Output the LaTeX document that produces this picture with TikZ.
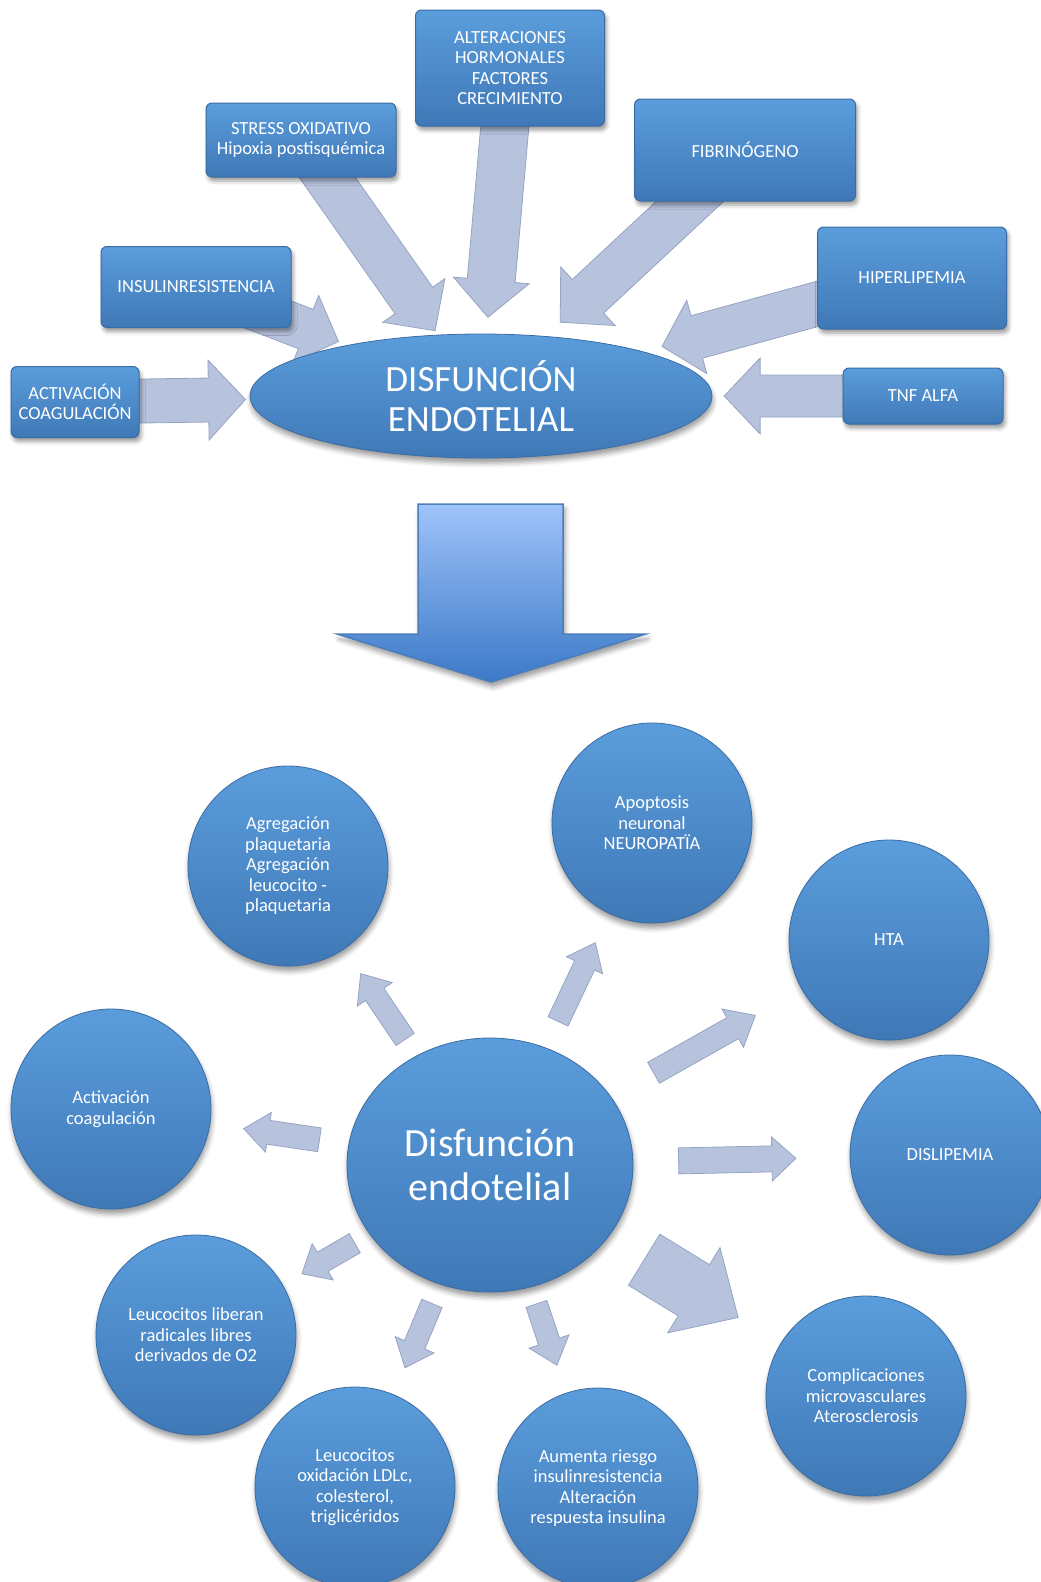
\documentclass[tikz,border=0pt]{standalone}
\usepackage{fontspec}
\setmainfont{Carlito}
\usetikzlibrary{shapes.geometric,calc,backgrounds,shadows.blur}

\definecolor{boxtop}{HTML}{5B9DDC}
\definecolor{boxbot}{HTML}{3F78B7}
\definecolor{boxline}{HTML}{3A6CA3}
\definecolor{arrowfill}{HTML}{B7C3DD}
\definecolor{arrowedge}{HTML}{95A4C4}
\definecolor{bigtop}{HTML}{9FC3FA}
\definecolor{bigbot}{HTML}{3C79C8}
\definecolor{bigline}{HTML}{4A7DBB}

\tikzset{
  cause/.style={rectangle, rounded corners=6pt, draw=boxline, line width=1pt,
    top color=boxtop, bottom color=boxbot, text=white, align=center,
    inner sep=2pt, font=\fontsize{18.5}{20.2}\selectfont,
    blur shadow={shadow xshift=2pt, shadow yshift=-4pt, shadow blur radius=4pt}},
  effect/.style={circle, minimum size=200pt, inner sep=0pt, draw=boxline,
    line width=0.8pt, top color=boxtop, bottom color=boxbot, text=white,
    align=center, font=\fontsize{18.5}{20.5}\selectfont,
    blur shadow={shadow xshift=1pt, shadow yshift=-5pt, shadow blur radius=5pt}},
  fatarrow/.style={draw=arrowedge, line width=0.8pt, fill=arrowfill},
  bigarrow/.style={draw=bigline, line width=1.5pt, top color=bigtop,
    bottom color=bigbot,
    blur shadow={shadow xshift=2pt, shadow yshift=-5pt, shadow blur radius=5pt}},
}

% block arrow from #1 to #2: shaft half width #3, head half width #4, head length #5
\newcommand{\fatarrow}[5]{%
  \path (#1); \pgfgetlastxy{\fax}{\fay}%
  \path (#2); \pgfgetlastxy{\fbx}{\fby}%
  \pgfmathsetmacro{\faang}{atan2(\fby-\fay,\fbx-\fax)}%
  \pgfmathsetmacro{\falen}{veclen(\fbx-\fax,\fby-\fay)}%
  \path[fatarrow, shift={(\fax,\fay)}, rotate=\faang]
    (0pt,-#3pt) -- (\falen pt-#5pt,-#3pt) -- (\falen pt-#5pt,-#4pt)
    -- (\falen pt,0pt) -- (\falen pt-#5pt,#4pt) -- (\falen pt-#5pt,#3pt)
    -- (0pt,#3pt) -- cycle;
}

\begin{document}
\begin{tikzpicture}[x=1pt, y=-1pt]
  \path[use as bounding box, clip] (0,0) rectangle (1041,1582);

  % upper part: causes around the ellipse
  \coordinate (endo-c) at (481,396);
  \coordinate (actcoag-c) at (75,402);
  \coordinate (insulin-c) at (196,287);
  \coordinate (stress-c) at (301,140);
  \coordinate (alter-c) at (510,68);
  \coordinate (fibrino-c) at (745,150);
  \coordinate (hiperlip-c) at (912,278);
  \coordinate (tnf-c) at (923,396);

  \fatarrow{actcoag-c}{$(actcoag-c)!0.42!(endo-c)$}{22}{40}{37}
  \fatarrow{insulin-c}{$(insulin-c)!0.50!(endo-c)$}{21}{36}{35}
  \fatarrow{stress-c}{$(stress-c)!0.745!(endo-c)$}{23}{38}{37}
  \fatarrow{alter-c}{$(alter-c)!0.76!(endo-c)$}{24}{38}{37}
  \fatarrow{fibrino-c}{$(fibrino-c)!0.70!(endo-c)$}{23}{40}{38}
  \fatarrow{hiperlip-c}{$(hiperlip-c)!0.58!(endo-c)$}{22}{38}{36}
  \fatarrow{tnf-c}{$(tnf-c)!0.45!(endo-c)$}{21}{38}{36}

  \node[ellipse, minimum width=462pt, minimum height=124pt, inner sep=0pt,
    draw=boxline, line width=0.8pt, top color=boxtop, bottom color=boxbot,
    text=white, align=center, font=\fontsize{37}{40}\selectfont,
    blur shadow={shadow xshift=1pt, shadow yshift=-5pt, shadow blur radius=5pt}]
    (endo) at (endo-c) {DISFUNCIÓN\\ENDOTELIAL};
  \node[cause, minimum width=128pt, minimum height=71pt] (actcoag) at (actcoag-c) {ACTIVACIÓN\\COAGULACIÓN};
  \node[cause, minimum width=190pt, minimum height=81pt] (insulin) at (insulin-c) {INSULINRESISTENCIA};
  \node[cause, minimum width=190pt, minimum height=74pt] (stress) at (stress-c) {STRESS OXIDATIVO\\Hipoxia postisquémica};
  \node[cause, minimum width=189pt, minimum height=116pt] (alter) at (alter-c) {ALTERACIONES\\HORMONALES\\FACTORES\\CRECIMIENTO};
  \node[cause, minimum width=221pt, minimum height=102pt] (fibrino) at (fibrino-c) {FIBRINÓGENO};
  \node[cause, minimum width=189pt, minimum height=102pt] (hiperlip) at (hiperlip-c) {HIPERLIPEMIA};
  \node[cause, minimum width=160pt, minimum height=56pt] (tnf) at (tnf-c) {TNF ALFA};

  % big arrow down
  \path[bigarrow] (418,504) -- (563,504) -- (563,634) -- (646,634)
    -- (491,682) -- (337,634) -- (418,634) -- cycle;

  % lower part: effects around the circle
  \node[ellipse, minimum width=286pt, minimum height=254pt, inner sep=0pt,
    draw=boxline, line width=0.8pt, top color=boxtop, bottom color=boxbot,
    text=white, align=center, font=\fontsize{40}{43.4}\selectfont,
    blur shadow={shadow xshift=1pt, shadow yshift=-5pt, shadow blur radius=5pt}]
    (mid) at (490,1165) {Disfunción\\endotelial};
  \node[effect] (agreg) at (288,866) {Agregación\\plaquetaria\\Agregación\\leucocito -\\plaquetaria};
  \node[effect] (apopt) at (652,823) {Apoptosis\\neuronal\\NEUROPATÏA};
  \node[effect] (hta) at (889,940) {HTA};
  \node[effect] (actc) at (111,1109) {Activación\\coagulación};
  \node[effect] (dislip) at (950,1155) {DISLIPEMIA};
  \node[effect] (leulib) at (196,1335) {Leucocitos liberan\\radicales libres\\derivados de O2};
  \node[effect] (leuox) at (355,1487) {Leucocitos\\oxidación LDLc,\\colesterol,\\triglicéridos};
  \node[effect] (aumenta) at (598,1488) {Aumenta riesgo\\insulinresistencia\\Alteración\\respuesta insulina};
  \node[effect] (complic) at (866,1396) {Complicaciones\\microvasculares\\Aterosclerosis};

  \begin{scope}[on background layer]
    \fatarrow{$(mid)!0.42!(agreg)$}{$(mid)!0.64!(agreg)$}{11}{21}{25}
    \fatarrow{$(mid)!0.42!(apopt)$}{$(mid)!0.65!(apopt)$}{11}{20}{25}
    \fatarrow{$(mid)!0.41!(hta)$}{$(mid)!0.665!(hta)$}{12}{22}{26}
    \fatarrow{$(mid)!0.45!(actc)$}{$(mid)!0.65!(actc)$}{12}{20}{25}
    \fatarrow{$(mid)!0.41!(dislip)$}{$(mid)!0.665!(dislip)$}{13}{22}{24}
    \fatarrow{$(mid)!0.46!(leulib)$}{$(mid)!0.64!(leulib)$}{11}{21}{24}
    \fatarrow{$(mid)!0.43!(leuox)$}{$(mid)!0.63!(leuox)$}{11}{21}{25}
    \fatarrow{$(mid)!0.43!(aumenta)$}{$(mid)!0.62!(aumenta)$}{11}{21}{25}
    \fatarrow{$(mid)!0.41!(complic)$}{$(mid)!0.66!(complic)$}{30}{50}{52}
  \end{scope}
\end{tikzpicture}
\end{document}
